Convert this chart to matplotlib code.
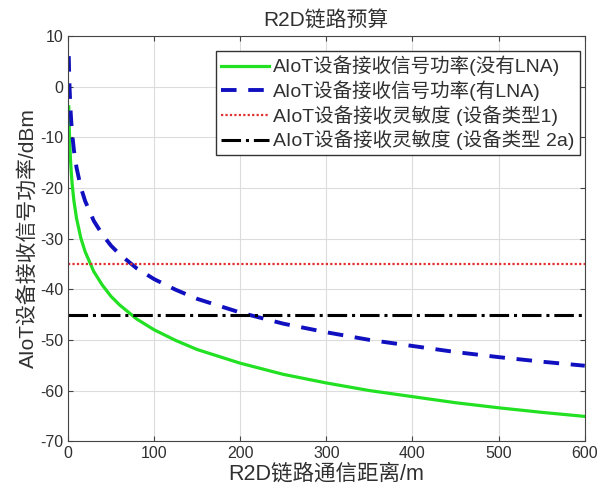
import matplotlib
matplotlib.use("Agg")
import matplotlib.pyplot as plt

plt.rcParams['font.family'] = ['Liberation Sans', 'Noto Sans CJK SC', 'DejaVu Sans']
plt.rcParams['axes.unicode_minus'] = False

# distance (m) and received power (dBm)
dist = [1, 1.5, 2, 3, 4, 5, 7, 10, 15, 20, 30, 40, 50, 60, 80, 100, 125, 150,
        200, 250, 300, 350, 400, 450, 500, 550, 600]
p_no_lna = [-4.0, -7.9, -10.6, -14.5, -17.2, -19.4, -22.6, -26.0, -29.9, -32.6,
            -36.5, -39.2, -41.4, -43.1, -45.9, -48.0, -50.1, -51.9, -54.6, -56.8,
            -58.5, -60.0, -61.2, -62.4, -63.4, -64.3, -65.1]
p_lna = [6.0, 2.1, -0.6, -4.5, -7.2, -9.4, -12.6, -16.0, -19.9, -22.6,
         -26.5, -29.2, -31.4, -33.1, -35.9, -38.0, -40.1, -41.9, -44.6, -46.8,
         -48.5, -50.0, -51.2, -52.4, -53.4, -54.3, -55.1]
sens_type1 = -35
sens_type2a = -45
x_range = [0, 600]

labels = ['AIoT设备接收信号功率(没有LNA)', 'AIoT设备接收信号功率(有LNA)',
          'AIoT设备接收灵敏度 (设备类型1)', 'AIoT设备接收灵敏度 (设备类型 2a)']

txt = '#303030'
fig = plt.figure(figsize=(6.01, 4.98), dpi=100)
ax = fig.add_axes([0.113, 0.114, 0.86, 0.814])

ax.plot(dist, p_no_lna, color='#22e022', lw=2.3, label=labels[0])
ax.plot(dist, p_lna, color='#1010c0', lw=2.8, ls=(0, (4, 3)), label=labels[1])
ax.plot(x_range, [sens_type1] * 2, color='#e03030', lw=1.6, ls=(0, (1, 1)), label=labels[2])
ax.plot(x_range, [sens_type2a] * 2, color='black', lw=2.2, ls='-.', label=labels[3])

ax.set_xlim(0, 600)
ax.set_ylim(-70, 10)
ax.set_xticks(range(0, 601, 100))
ax.set_yticks(range(-70, 11, 10))
ax.grid(True, color='#dcdcdc', lw=0.8)
ax.tick_params(direction='in', top=True, right=True, labelsize=11.5,
               colors='#444444', labelcolor=txt)
for s in ax.spines.values():
    s.set_color('#444444')

ax.set_title('R2D链路预算', fontsize=15, color=txt, pad=7)
ax.set_xlabel('R2D链路通信距离/m', fontsize=15.5, color=txt, labelpad=2)
ax.set_ylabel('AIoT设备接收信号功率/dBm', fontsize=15, color=txt, labelpad=1)

leg = ax.legend(loc='upper right', bbox_to_anchor=(0.99, 0.963), fontsize=14,
                fancybox=False, edgecolor='#333333', framealpha=1,
                handlelength=2.5, handletextpad=0.2, borderpad=0.25,
                labelspacing=0.2, borderaxespad=0)
leg.get_frame().set_linewidth(1)
for t in leg.get_texts():
    t.set_color(txt)

fig.savefig('out.png', dpi=100)
